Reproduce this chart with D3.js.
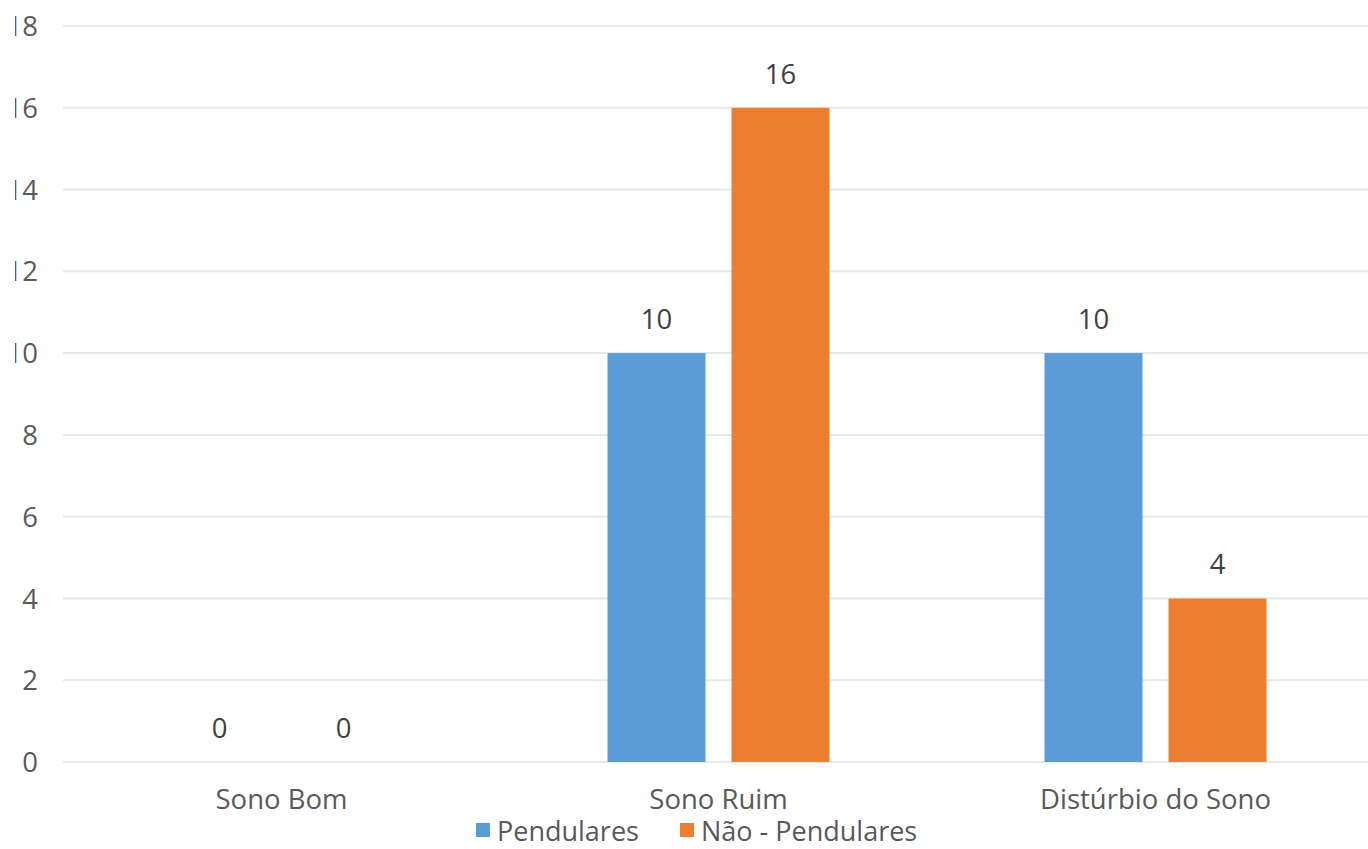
<!DOCTYPE html>
<html>
<head>
<meta charset="utf-8">
<script src="https://cdn.jsdelivr.net/npm/d3@7"></script>
<style>
  html, body { margin: 0; padding: 0; background: #fff; }
  svg text { font-family: "Open Sans", "Noto Sans", sans-serif; }
</style>
</head>
<body>
<svg id="chart" width="1368" height="849"></svg>
<script>
// Sleep quality counts by group
const categories = ["Sono Bom", "Sono Ruim", "Distúrbio do Sono"];
const seriesNames = ["Pendulares", "Não - Pendulares"];
const pendulares = [0, 10, 10];
const naoPendulares = [0, 16, 4];
const yTicks = [0, 2, 4, 6, 8, 10, 12, 14, 16, 18];
const colors = ["#5B9BD5", "#ED7D31"];

const series = [pendulares, naoPendulares];
const svg = d3.select("#chart");
const fontSize = "27.5px";

const plotLeft = 63, plotRight = 1374, plotTop = 26, plotBottom = 762;

const x = d3.scaleBand().domain(categories).range([plotLeft, plotRight]).paddingInner(0).paddingOuter(0);
const inner = d3.scaleBand().domain(seriesNames).range([0, x.bandwidth()]).paddingInner(0.21).paddingOuter(0.867);
const y = d3.scaleLinear().domain([0, 18]).range([plotBottom, plotTop]);

// the value-axis labels are clipped at the chart's left edge
svg.append("defs").append("clipPath").attr("id", "yclip")
  .append("rect").attr("x", 15).attr("y", 0).attr("width", 60).attr("height", 849);

// horizontal gridlines
svg.append("g")
  .selectAll("line")
  .data(yTicks)
  .join("line")
  .attr("x1", plotLeft)
  .attr("x2", 1368)
  .attr("y1", d => y(d))
  .attr("y2", d => y(d))
  .attr("stroke", "#e8e8e8")
  .attr("stroke-width", 2);

// y axis labels
const yAxis = d3.axisLeft(y).tickValues(yTicks).tickSize(0).tickPadding(0);
const yWrap = svg.append("g").attr("clip-path", "url(#yclip)");
const yg = yWrap.append("g").attr("transform", "translate(38,0)").call(yAxis);
yg.select(".domain").remove();
yg.selectAll("text")
  .attr("fill", "#595959")
  .style("font-size", fontSize)
  .attr("dy", "0.35em");

// bars
const groups = svg.append("g")
  .selectAll("g")
  .data(categories)
  .join("g")
  .attr("transform", c => `translate(${x(c)},0)`);

const rows = (c, i) => series.map((s, k) => ({ name: seriesNames[k], value: s[i], k }));

groups.selectAll("rect")
  .data(rows)
  .join("rect")
  .attr("x", d => inner(d.name))
  .attr("width", inner.bandwidth())
  .attr("y", d => y(d.value))
  .attr("height", d => y(0) - y(d.value))
  .attr("fill", d => colors[d.k]);

// value labels
groups.selectAll("text")
  .data(rows)
  .join("text")
  .attr("x", d => inner(d.name) + inner.bandwidth() / 2)
  .attr("y", d => y(d.value) - 24)
  .attr("text-anchor", "middle")
  .attr("fill", "#404040")
  .style("font-size", fontSize)
  .text(d => d.value);

// x axis category labels
const xAxis = d3.axisBottom(x).tickSize(0).tickPadding(0);
const xg = svg.append("g").attr("transform", "translate(0,809)").call(xAxis);
xg.select(".domain").remove();
xg.selectAll("text")
  .attr("fill", "#595959")
  .style("font-size", fontSize)
  .attr("y", 0)
  .attr("dy", 0);

// legend
const legend = svg.append("g").attr("transform", "translate(0,841)");
const legendItems = [
  { name: seriesNames[0], color: colors[0], x: 476 },
  { name: seriesNames[1], color: colors[1], x: 680 }
];
const li = legend.selectAll("g").data(legendItems).join("g")
  .attr("transform", d => `translate(${d.x},0)`);
li.append("rect").attr("x", 0).attr("y", -18).attr("width", 14).attr("height", 14).attr("fill", d => d.color);
li.append("text").attr("x", 21)
  .attr("fill", "#595959").style("font-size", "27px").text(d => d.name);
</script>
</body>
</html>
